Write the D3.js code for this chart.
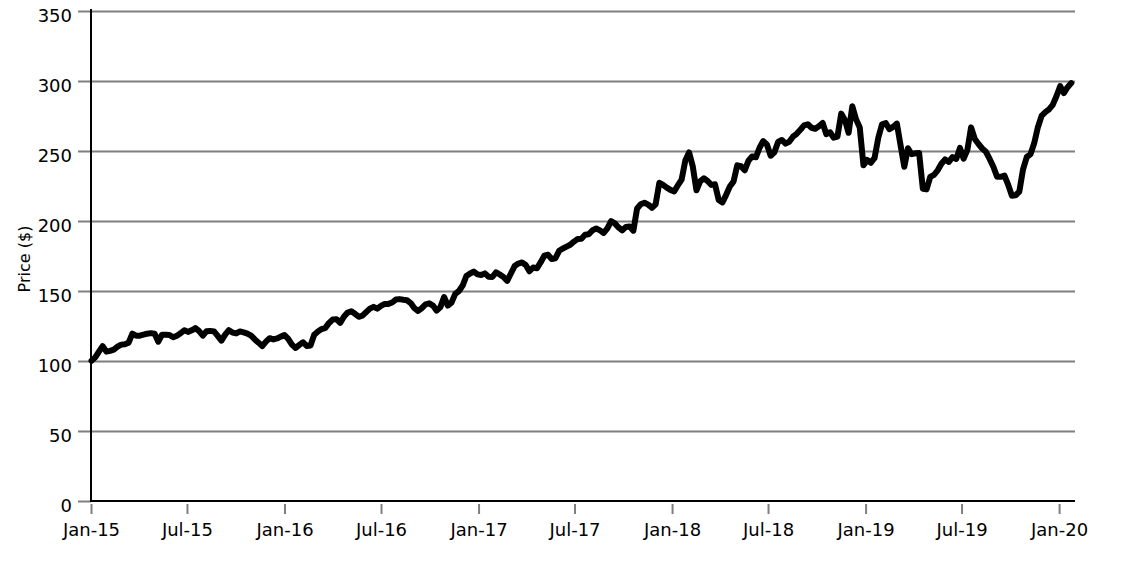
<!DOCTYPE html>
<html><head><meta charset="utf-8">
<script src="https://cdn.jsdelivr.net/npm/d3@7"></script>
<style>
body{margin:0;background:#fff}
svg{display:block}
text{font-family:"DejaVu Sans",sans-serif;fill:#000}
</style>
</head><body>
<svg id="chart" width="1146" height="573"></svg>
<script>
// weekly closing prices, first week ending 2015-01-02
const startDate = "2015-01-02";
const prices = [
100.2,102.6,106.7,110.6,106.7,107.2,108.1,110.2,111.7,112.0,113.1,119.5,118.1,118.1,118.8,119.5,119.9,119.5,113.8,118.8,
118.8,118.6,117.0,118.1,119.8,122.0,120.8,121.9,123.5,121.3,118.1,121.3,121.5,121.1,117.9,114.5,118.8,122.0,120.3,119.7,
121.1,120.4,119.5,118.1,115.4,113.1,110.6,113.8,116.3,115.4,116.1,117.4,118.5,115.8,111.7,109.3,111.5,113.4,110.7,111.1,
118.8,121.1,122.8,123.7,127.2,129.6,129.9,127.2,131.6,134.6,135.5,133.7,131.6,132.4,134.9,137.4,138.7,137.4,139.4,140.8,
140.8,141.8,143.9,144.2,143.7,143.4,141.4,137.7,135.7,137.8,140.5,141.2,139.6,136.0,138.5,145.7,139.6,141.7,148.0,150.0,
153.9,160.7,162.5,163.9,161.9,161.4,162.6,160.2,160.0,163.4,161.8,160.0,157.3,162.5,167.8,169.6,170.4,168.6,164.1,166.8,
166.2,170.4,175.2,175.9,172.8,173.4,178.7,180.4,181.7,183.0,185.3,187.2,187.3,190.2,190.6,193.4,194.6,193.3,191.5,194.8,
199.9,198.3,195.4,193.3,195.8,196.1,193.1,209.0,212.0,213.0,211.7,209.4,211.9,227.3,225.8,223.8,222.2,221.2,225.5,229.6,
243.2,249.0,239.1,221.9,228.3,230.5,228.6,225.8,226.2,215.0,213.3,218.7,224.6,228.3,239.8,239.1,236.2,243.0,246.1,245.5,
252.3,257.1,254.5,246.6,249.1,256.5,257.9,255.3,256.6,260.2,262.3,265.2,268.3,269.1,266.6,265.9,267.7,270.0,262.0,263.4,
259.5,260.3,276.7,272.2,263.0,282.0,272.6,266.8,239.8,243.6,241.6,245.1,259.5,269.1,269.9,265.6,267.2,269.6,254.1,238.7,
252.0,247.7,248.4,248.5,223.0,222.6,231.5,233.0,236.2,240.9,244.0,242.2,245.6,244.3,252.2,244.5,250.8,266.9,258.6,255.0,
251.8,249.4,244.3,238.7,231.6,231.6,232.4,225.8,218.1,218.4,221.0,236.9,245.7,247.7,255.5,267.0,275.1,277.7,279.7,282.9,
289.1,296.3,291.3,295.6,298.5
];
const yTicks = [0, 50, 100, 150, 200, 250, 300, 350];
const xTickDates = ["2015-01-01","2015-07-01","2016-01-01","2016-07-01","2017-01-01","2017-07-01",
                    "2018-01-01","2018-07-01","2019-01-01","2019-07-01","2020-01-01"];
const xTickLabels = ["Jan-15","Jul-15","Jan-16","Jul-16","Jan-17","Jul-17",
                     "Jan-18","Jul-18","Jan-19","Jul-19","Jan-20"];
const xDomain = ["2015-01-01", "2020-01-31"];
const yTitle = "Price ($)";

(function draw() {
  const parse = d3.utcParse("%Y-%m-%d");
  const start = parse(startDate);
  const data = prices.map((v, i) => ({date: d3.utcDay.offset(start, 7 * i), value: v}));

  const svg = d3.select("#chart");
  const mLeft = 91, mRight = 1075, mTop = 11, mBottom = 501;

  const x = d3.scaleUtc().domain(xDomain.map(parse)).range([mLeft, mRight]);
  const y = d3.scaleLinear().domain([0, 350]).range([mBottom, mTop]);

  const gridColor = "#7f7f7f";

  // y axis with gridlines
  const yAxis = svg.append("g").attr("transform", `translate(${mLeft},0)`)
    .call(d3.axisLeft(y).tickValues(yTicks).tickSize(13).tickPadding(6).tickFormat(d3.format("d")));
  yAxis.select(".domain").remove();
  yAxis.selectAll(".tick line").attr("stroke", gridColor).attr("stroke-width", 2);
  yAxis.selectAll(".tick").filter(d => d !== 0).append("line")
    .attr("x1", 0).attr("x2", mRight - mLeft)
    .attr("stroke", gridColor).attr("stroke-width", 2);
  yAxis.selectAll(".tick text").attr("font-size", 18).attr("font-family", "DejaVu Sans")
    .attr("dy", "0.6em").attr("fill", "#000");

  // x axis
  const xAxis = svg.append("g").attr("transform", `translate(0,${mBottom})`)
    .call(d3.axisBottom(x).tickValues(xTickDates.map(parse))
      .tickFormat((d, i) => xTickLabels[i]).tickSize(13).tickPadding(9));
  xAxis.select(".domain").remove();
  xAxis.selectAll(".tick line").attr("stroke", gridColor).attr("stroke-width", 2).attr("y1", 3);
  xAxis.selectAll(".tick text").attr("font-size", 18).attr("font-family", "DejaVu Sans").attr("fill", "#000");

  // axis lines
  svg.append("line").attr("x1", mLeft).attr("x2", mLeft).attr("y1", mTop - 2).attr("y2", mBottom + 1)
    .attr("stroke", "#000").attr("stroke-width", 2);
  svg.append("line").attr("x1", mLeft).attr("x2", mRight).attr("y1", mBottom).attr("y2", mBottom)
    .attr("stroke", "#000").attr("stroke-width", 2);

  // y title
  svg.append("text")
    .attr("transform", `translate(30,${(mTop + mBottom) / 2 + 3}) rotate(-90)`)
    .attr("text-anchor", "middle").attr("font-size", 16).text(yTitle);

  // price line
  svg.append("path").datum(data)
    .attr("fill", "none").attr("stroke", "#000").attr("stroke-width", 6)
    .attr("stroke-linejoin", "round").attr("stroke-linecap", "round")
    .attr("d", d3.line().x(d => x(d.date)).y(d => y(d.value)));
})();
</script>
</body></html>
